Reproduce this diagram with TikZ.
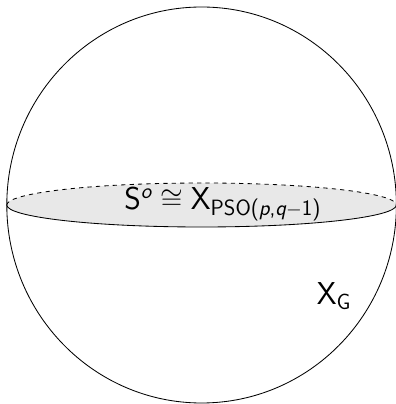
\documentclass[tikz,border=0pt]{standalone}
\usepackage{tikz}
\usetikzlibrary{positioning,calc}
\usepackage{amsmath,amssymb}
\definecolor{discfill}{HTML}{E8E8E8}

\begin{document}
\begin{tikzpicture}[
  sphere/.style={draw, line width=0.6pt},
  disc/.style={fill=discfill, draw=none},
  front/.style={draw, line width=0.6pt},
  back/.style={draw, dashed, line width=0.6pt},
  lbl/.style={font=\fontsize{22.5}{27}\selectfont\sffamily, inner sep=1pt}
]
  \useasboundingbox (0,0) rectangle (9.9,10.1);
  \coordinate (o) at (5.04,4.975);
  % equatorial disc
  \fill[disc] (o) ellipse [x radius=4.87cm, y radius=0.55cm];
  \draw[back] ($(o)+(-4.87,0)$) arc [start angle=180, end angle=0, x radius=4.87cm, y radius=0.55cm];
  \draw[front] ($(o)+(-4.87,0)$) arc [start angle=180, end angle=360, x radius=4.87cm, y radius=0.55cm];
  % sphere outline
  \draw[sphere] (o) ellipse [x radius=4.87cm, y radius=4.95cm];
  \node[lbl] (eq) at (5.57,5.0) {S$^{\text{\itshape o}}\cong{}$X$_{\text{PSO(\itshape p\upshape,\itshape q\upshape$-$1)}}$};
  \node[lbl] (xg) at (8.35,2.7) {X$_{\text{G}}$};
\end{tikzpicture}
\end{document}
